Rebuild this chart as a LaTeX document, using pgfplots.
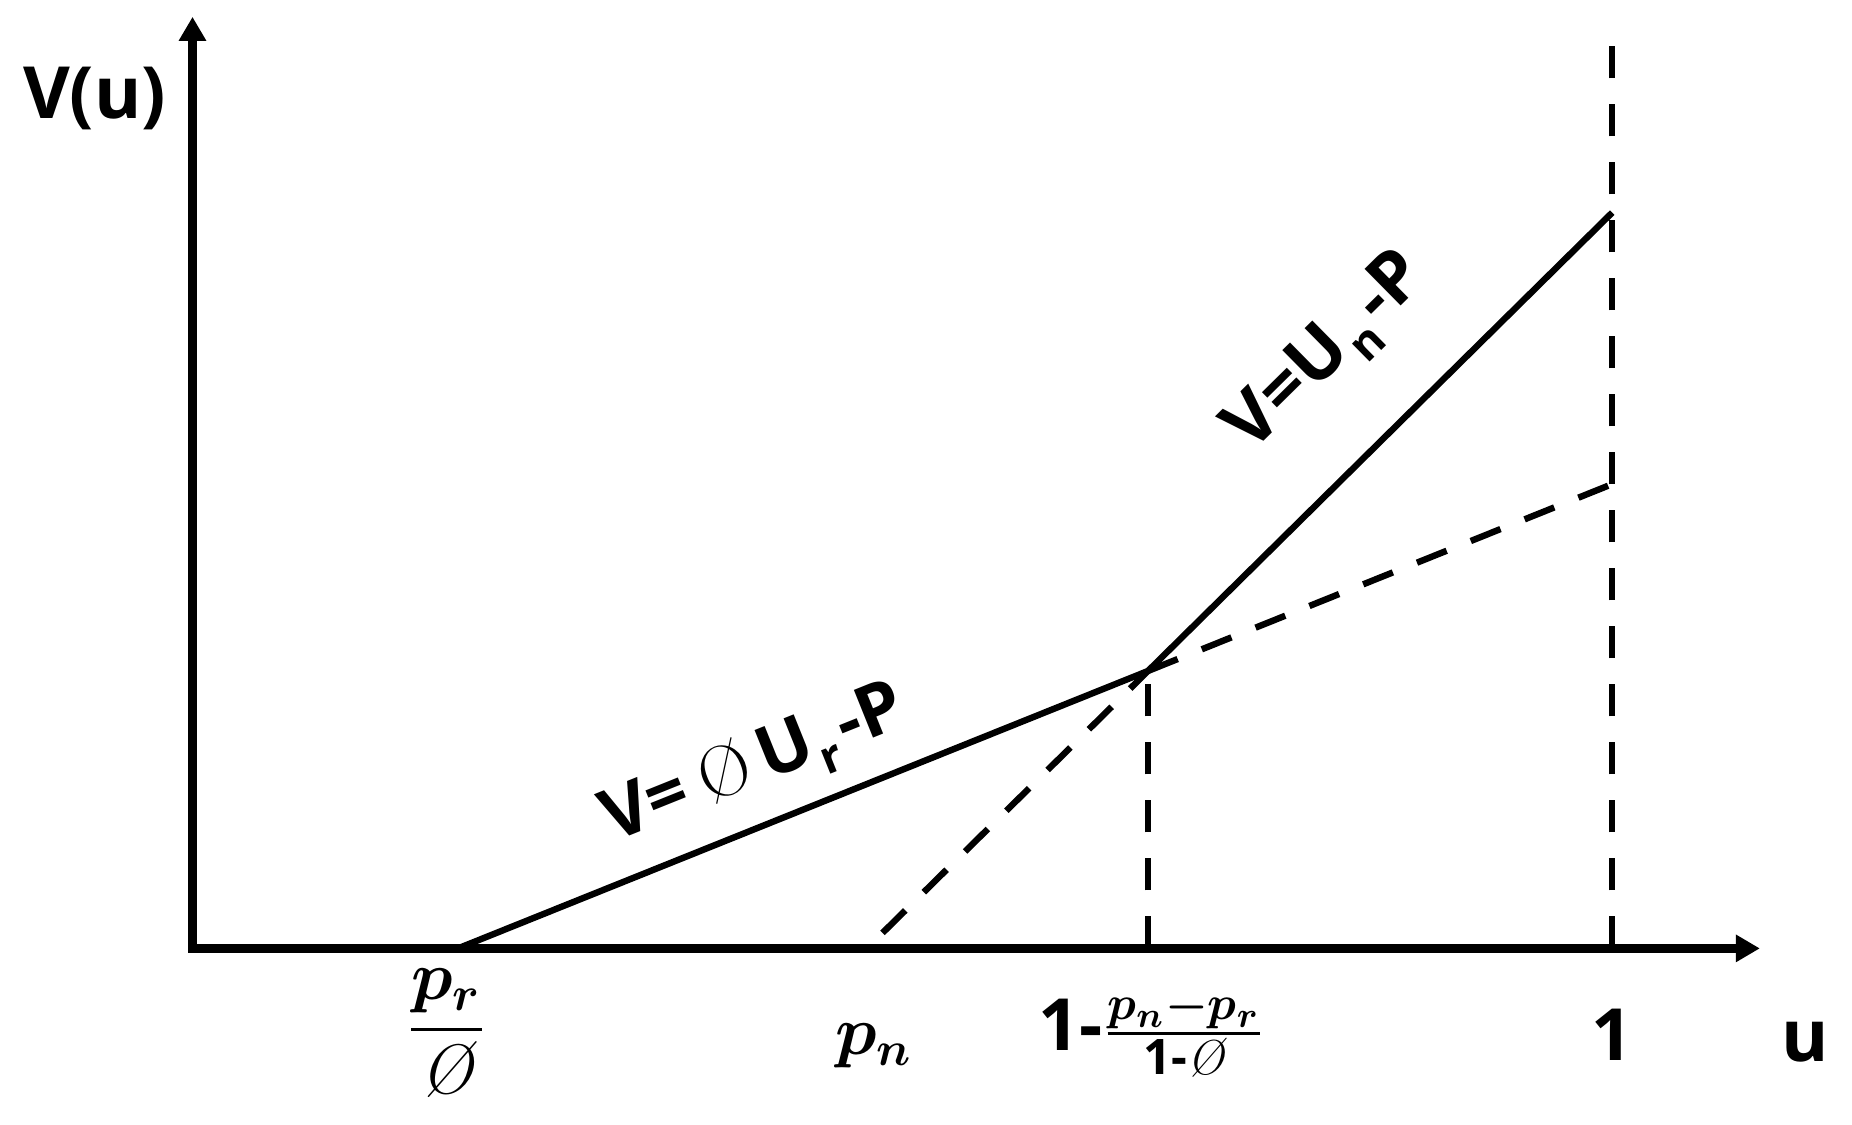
\documentclass[border=0pt]{standalone}
\usepackage{amsmath}
\usepackage{fontspec}
\newfontfamily\osans{Open Sans}
\usepackage{pgfplots}
\pgfplotsset{compat=1.18}
\usetikzlibrary{arrows.meta}

\newcommand\lbl{\osans\bfseries\fontsize{18}{22}\selectfont}
\newcommand\mth{\fontsize{17.5}{21}\selectfont}
\newcommand\sub[1]{\kern0.5pt\raisebox{-0.45ex}{\fontsize{11.5}{12}\selectfont #1}\kern1.5pt}

\begin{document}
\begin{tikzpicture}
\begin{axis}[scale only axis, width=463pt, height=281.1pt,
  xmin=-0.1356, xmax=1.1689, ymin=-0.2392, ymax=1.2889,
  hide axis, clip=false,
  dashline/.style={line width=1.6pt, dash pattern=on 8pt off 6.5pt}]
\addplot[draw=none, forget plot] coordinates {(-0.1356,-0.2392) (1.1689,1.2889)};
% axes
\addplot[line width=2.3pt, {Triangle[width=6.5pt,length=6pt]}-{Triangle[width=6.5pt,length=6pt]}]
  coordinates {(0,1.266) (0,0) (1.104,0)};
% dashed guides
\addplot[dashline] coordinates {(1,0) (1,1.244)};
\addplot[dashline] coordinates {(0.673,0) (0.673,0.377)};
\addplot[dashline] coordinates {(0.673,0.377) (1,0.631)};
\addplot[dashline] coordinates {(0.486,0.021) (0.673,0.377)};
% solid value function
\addplot[line width=1.6pt] coordinates {(0.187,0) (0.673,0.377) (1,1)};

% labels
\node[font=\lbl, anchor=base] at (axis cs:-0.0690,1.128) {V(u)};
\node[font=\lbl, anchor=base] at (axis cs:1.1356,-0.154) {u};
\node[font=\lbl, anchor=base] at (axis cs:1,-0.1525) {1};
\node[font=\mth] at (axis cs:0.179,-0.1156) {$\displaystyle\frac{\boldsymbol{p_r}}{\text{\itshape Ø}}$};
\node[font=\mth] at (axis cs:0.48,-0.133) {$\boldsymbol{p_n}$};
\node[font=\mth] at (axis cs:0.6755,-0.1156) {{\lbl 1-}$\frac{\boldsymbol{p_n-p_r}}{\text{\osans\bfseries 1-\normalfont\itshape Ø}}$};
\node[font=\lbl, rotate=21.9] at (axis cs:0.3960,0.2470) {V=\kern4pt{\normalfont\mdseries Ø}\kern3pt U\sub{r}-P};
\node[font=\lbl, rotate=44.6] at (axis cs:0.8003,0.8074) {V=U\sub{n}-P};
\end{axis}
\end{tikzpicture}
\end{document}
